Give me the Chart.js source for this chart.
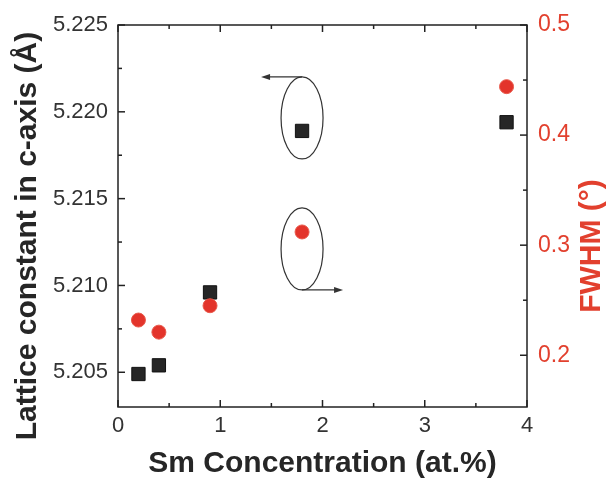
<!DOCTYPE html>
<html>
<head>
<meta charset="utf-8">
<script src="https://cdn.jsdelivr.net/npm/chart.js@4.4.1/dist/chart.umd.min.js"></script>
<style>
    html, body { margin: 0; padding: 0; background: #fff; }
    #wrap { width: 609px; height: 483px; }
</style>
</head>
<body>
<div id="wrap"><canvas id="chart" width="609" height="483"></canvas></div>
<script>
// Sm concentration (at.%)
var concentration = [0.2, 0.4, 0.9, 1.8, 3.8];
// lattice constant in c-axis (Å), left axis
var latticeC = [5.2049, 5.2054, 5.2096, 5.2189, 5.2194];
// FWHM (°), right axis
var fwhm = [0.232, 0.221, 0.245, 0.312, 0.444];

var xTicks = [0, 1, 2, 3, 4];
var xMinorTicks = [0.5, 1.5, 2.5, 3.5];
var leftTicks = [5.205, 5.210, 5.215, 5.220, 5.225];
var leftMinorTicks = [5.2075, 5.2125, 5.2175, 5.2225];
var rightTicks = [0.2, 0.3, 0.4, 0.5];
var rightMinorTicks = [0.25, 0.35, 0.45];

var RED = '#e2402e',
    DARK = '#262626',
    FONT = '"Liberation Sans", Arial, sans-serif';

/**
 * Replace generated ticks with a fixed list.
 */
function fixedTicks(values) {
    return function(scale) {
        scale.ticks = values.map(function(v) { return {value: v}; });
    };
}

/**
 * Frame, inward tick marks, annotations and the two y titles.
 */
var framePlugin = {
    id: 'frame',
    afterDraw: function(chart) {
        var ctx = chart.ctx,
            area = chart.chartArea,
            x = chart.scales.x,
            y = chart.scales.y,
            y1 = chart.scales.y1;

        ctx.save();
        ctx.strokeStyle = '#222';
        ctx.lineWidth = 1.5;
        ctx.strokeRect(area.left, area.top, area.right - area.left, area.bottom - area.top);

        function tick(x0, y0, x1, y1p) {
            ctx.beginPath();
            ctx.moveTo(x0, y0);
            ctx.lineTo(x1, y1p);
            ctx.stroke();
        }

        xTicks.forEach(function(v) {
            var px = x.getPixelForValue(v);
            tick(px, area.bottom, px, area.bottom - 7);
            tick(px, area.top, px, area.top + 7);
        });
        xMinorTicks.forEach(function(v) {
            var px = x.getPixelForValue(v);
            tick(px, area.bottom, px, area.bottom - 4);
            tick(px, area.top, px, area.top + 4);
        });
        leftTicks.forEach(function(v) {
            var py = y.getPixelForValue(v);
            tick(area.left, py, area.left + 7, py);
        });
        leftMinorTicks.forEach(function(v) {
            var py = y.getPixelForValue(v);
            tick(area.left, py, area.left + 4, py);
        });
        rightTicks.forEach(function(v) {
            var py = y1.getPixelForValue(v);
            tick(area.right, py, area.right - 7, py);
        });
        rightMinorTicks.forEach(function(v) {
            var py = y1.getPixelForValue(v);
            tick(area.right, py, area.right - 4, py);
        });

        // Ellipses marking which axis each series belongs to
        var cx = x.getPixelForValue(concentration[3]),
            cyTop = y.getPixelForValue(latticeC[3]) - 13,
            cyBottom = y1.getPixelForValue(fwhm[3]) + 17;

        ctx.strokeStyle = '#333';
        ctx.fillStyle = '#333';
        ctx.lineWidth = 1.2;
        ctx.beginPath();
        ctx.ellipse(cx, cyTop, 21, 41, 0, 0, Math.PI * 2);
        ctx.stroke();
        ctx.beginPath();
        ctx.ellipse(cx, cyBottom, 21, 41, 0, 0, Math.PI * 2);
        ctx.stroke();

        // arrow to the left axis
        var ay = cyTop - 41;
        tick(cx, ay, cx - 34, ay);
        ctx.beginPath();
        ctx.moveTo(cx - 41, ay);
        ctx.lineTo(cx - 32, ay - 3);
        ctx.lineTo(cx - 32, ay + 3);
        ctx.closePath();
        ctx.fill();

        // arrow to the right axis
        var by = cyBottom + 41;
        tick(cx, by, cx + 34, by);
        ctx.beginPath();
        ctx.moveTo(cx + 41, by);
        ctx.lineTo(cx + 32, by - 3);
        ctx.lineTo(cx + 32, by + 3);
        ctx.closePath();
        ctx.fill();

        // y titles, both reading bottom to top
        ctx.font = 'bold 30px ' + FONT;
        ctx.textAlign = 'center';
        ctx.textBaseline = 'middle';

        ctx.save();
        ctx.translate(28, 236);
        ctx.rotate(-Math.PI / 2);
        ctx.fillStyle = DARK;
        ctx.fillText('Lattice constant in c-axis (\u00c5)', 0, 0);
        ctx.restore();

        ctx.save();
        ctx.translate(592, 246);
        ctx.rotate(-Math.PI / 2);
        ctx.fillStyle = RED;
        ctx.fillText('FWHM (\u00b0)', 0, 0);
        ctx.restore();

        ctx.restore();
    }
};

new Chart(document.getElementById('chart').getContext('2d'), {
    type: 'scatter',
    data: {
        datasets: [{
            label: 'FWHM',
            yAxisID: 'y1',
            order: 0,
            data: concentration.map(function(c, i) { return {x: c, y: fwhm[i]}; }),
            pointStyle: 'circle',
            pointRadius: 7,
            backgroundColor: '#e3342b',
            borderColor: '#e8584a',
            borderWidth: 1
        }, {
            label: 'Lattice constant',
            yAxisID: 'y',
            order: 1,
            data: concentration.map(function(c, i) { return {x: c, y: latticeC[i]}; }),
            pointStyle: 'rect',
            pointRadius: 9.4,
            backgroundColor: DARK,
            borderColor: '#111',
            borderWidth: 1
        }]
    },
    options: {
        responsive: false,
        animation: false,
        layout: {padding: {top: 25, left: 0, right: 0, bottom: 0}},
        plugins: {
            legend: {display: false},
            tooltip: {enabled: false}
        },
        scales: {
            x: {
                type: 'linear',
                position: 'bottom',
                min: 0,
                max: 4,
                afterBuildTicks: fixedTicks(xTicks),
                afterFit: function(scale) { scale.height = 76; },
                grid: {display: false},
                border: {display: false},
                ticks: {
                    color: '#333',
                    padding: -2,
                    font: {family: FONT, size: 22},
                    callback: function(v) { return String(v); }
                },
                title: {
                    display: true,
                    text: 'Sm Concentration (at.%)',
                    color: DARK,
                    padding: {top: 0, bottom: 1},
                    font: {family: FONT, size: 30, weight: 'bold'}
                }
            },
            y: {
                type: 'linear',
                position: 'left',
                min: 5.203,
                max: 5.225,
                afterBuildTicks: fixedTicks(leftTicks),
                afterFit: function(scale) { scale.width = 118; },
                grid: {display: false},
                border: {display: false},
                ticks: {
                    color: '#333',
                    padding: 2,
                    font: {family: FONT, size: 22},
                    callback: function(v) { return v.toFixed(3); }
                }
            },
            y1: {
                type: 'linear',
                position: 'right',
                min: 0.153,
                max: 0.5,
                afterBuildTicks: fixedTicks(rightTicks),
                afterFit: function(scale) { scale.width = 82; },
                grid: {display: false},
                border: {display: false},
                ticks: {
                    color: RED,
                    padding: 3,
                    font: {family: FONT, size: 23},
                    callback: function(v) { return v.toFixed(1); }
                }
            }
        }
    },
    plugins: [framePlugin]
});
</script>
</body>
</html>
